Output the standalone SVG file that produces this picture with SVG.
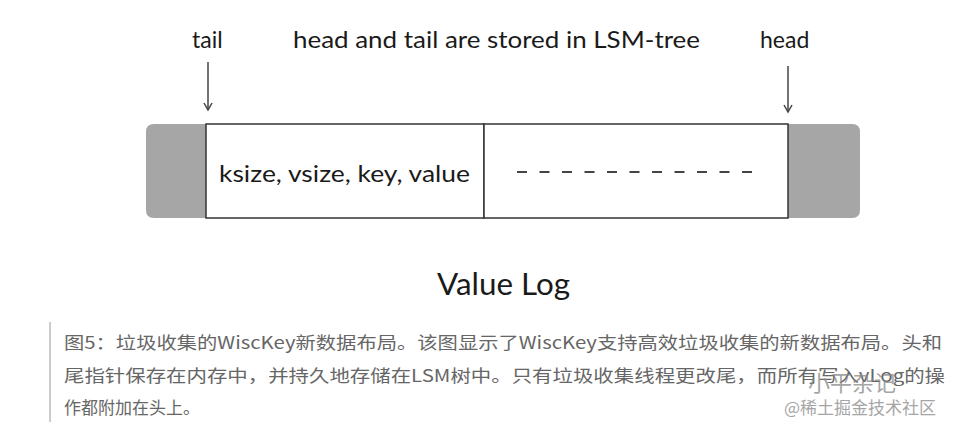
<svg xmlns="http://www.w3.org/2000/svg" width="963" height="430" viewBox="0 0 963 430">
<defs>
<style>
.lbl{font-family:Lato,"Open Sans","Noto Sans",sans-serif;fill:#1a1a1a}
.cap{font-family:"Noto Sans CJK SC","Noto Sans",sans-serif;font-size:17px;fill:#666}
.wm{font-family:"Noto Sans CJK SC","Noto Sans",sans-serif;fill:#888;opacity:0.75}
.arr{stroke:#444;stroke-width:1.5;fill:none}
</style>
<marker id="ah" markerWidth="10" markerHeight="10" refX="8" refY="5" orient="auto" markerUnits="userSpaceOnUse">
<path d="M1,1 L8,5 L1,9" fill="none" stroke="#444" stroke-width="1.5"/>
</marker>
</defs>
<rect width="963" height="430" fill="#fff"/>

<g id="left-gray">
<path d="M206,124 L154,124 Q146,124 146,132 L146,210 Q146,218 154,218 L206,218 Z" fill="#a6a6a6"/>
</g>
<g id="right-gray">
<path d="M788,124 L852,124 Q860,124 860,132 L860,210 Q860,218 852,218 L788,218 Z" fill="#a6a6a6"/>
</g>
<g id="record">
<rect x="206" y="124" width="278" height="94" fill="#fff" stroke="#333" stroke-width="1.5"/>
<text class="lbl" x="219" y="182" font-size="24" textLength="251" lengthAdjust="spacingAndGlyphs">ksize, vsize, key, value</text>
</g>
<g id="free">
<rect x="484" y="124" width="304" height="94" fill="#fff" stroke="#333" stroke-width="1.5"/>
<line x1="517" y1="172" x2="752" y2="172" stroke="#444" stroke-width="2" stroke-dasharray="10 12.5"/>
</g>

<g id="tail-label"><text class="lbl" x="192" y="48" font-size="23">tail</text></g>
<g id="head-label"><text class="lbl" x="760" y="48" font-size="23">head</text></g>
<g id="note"><text class="lbl" x="293" y="48" font-size="23" textLength="407" lengthAdjust="spacingAndGlyphs">head and tail are stored in LSM-tree</text></g>

<g id="connectors">
<line class="arr" x1="208" y1="62" x2="208" y2="110" marker-end="url(#ah)"/>
<line class="arr" x1="788" y1="66" x2="788" y2="112" marker-end="url(#ah)"/>
</g>

<g id="title"><text class="lbl" x="437" y="295" font-size="30" textLength="133" lengthAdjust="spacingAndGlyphs">Value Log</text></g>

<g id="caption">
<rect x="49" y="322" width="2" height="100" fill="#ccc"/>
<text class="cap" x="64" y="349" textLength="878" lengthAdjust="spacingAndGlyphs">图5：垃圾收集的WiscKey新数据布局。该图显示了WiscKey支持高效垃圾收集的新数据布局。头和</text>
<text class="cap" x="64" y="382" textLength="881" lengthAdjust="spacingAndGlyphs">尾指针保存在内存中，并持久地存储在LSM树中。只有垃圾收集线程更改尾，而所有写入vLog的操</text>
<text class="cap" x="64" y="414">作都附加在头上。</text>
<text class="wm" x="808" y="391" font-size="22">小平杂记</text>
<text class="wm" x="784" y="414" font-size="17">@稀土掘金技术社区</text>
</g>
</svg>
